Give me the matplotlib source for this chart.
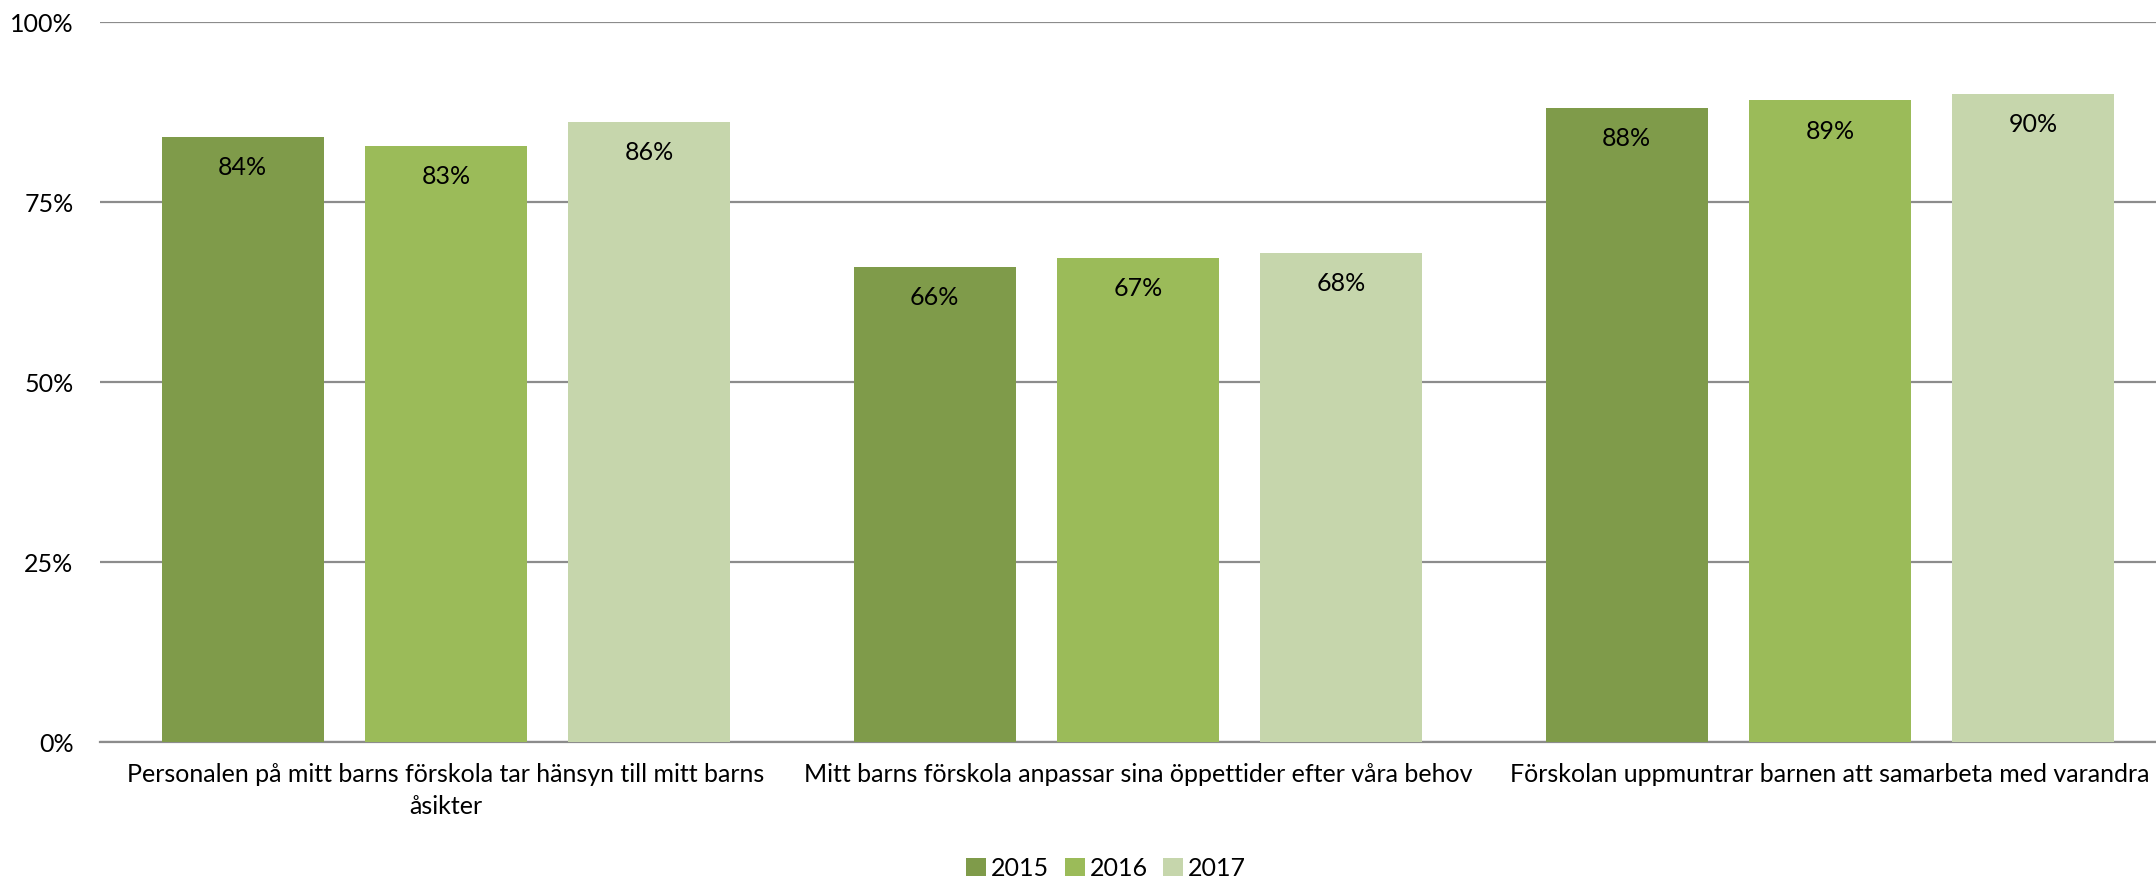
import matplotlib

matplotlib.use("Agg")
import matplotlib.pyplot as plt
from matplotlib.patches import Patch

plt.rcParams["font.family"] = ["Lato", "DejaVu Sans"]

# data
categories = [
    "Personalen på mitt barns förskola tar hänsyn till mitt barns\nåsikter",
    "Mitt barns förskola anpassar sina öppettider efter våra behov",
    "Förskolan uppmuntrar barnen att samarbeta med varandra",
]
years = ["2015", "2016", "2017"]
values_2015 = [84.0, 66.0, 88.0]
values_2016 = [82.8, 67.2, 89.1]
values_2017 = [86.1, 67.9, 90.0]
yticks = [0, 25, 50, 75, 100]
ytick_labels = ["0%", "25%", "50%", "75%", "100%"]

colors = ["#7f9b4a", "#9bbb59", "#c6d6ac"]
grid_color = "#8c8c8c"

fig = plt.figure(figsize=(21.56, 8.76), dpi=100)
ax = fig.add_axes([100 / 2156, 134 / 876, 2076 / 2156, 720 / 876])

series = [values_2015, values_2016, values_2017]
pitch = 0.294
width = 0.234
for i, (vals, col) in enumerate(zip(series, colors)):
    xs = [g + (i - 1) * pitch for g in range(len(categories))]
    bars = ax.bar(xs, vals, width=width, color=col, zorder=3)
    for b, v in zip(bars, vals):
        ax.annotate(
            f"{round(v):d}%",
            (b.get_x() + b.get_width() / 2, v),
            xytext=(0, -22),
            textcoords="offset points",
            ha="center",
            va="center",
            fontsize=18,
            color="black",
            zorder=4,
        )

ax.set_xlim(-0.5, 2.5)
ax.set_ylim(0, 100)
ax.set_yticks(yticks)
ax.set_yticklabels(ytick_labels, fontsize=18)
ax.set_xticks(range(len(categories)))
ax.set_xticklabels(categories, fontsize=18, linespacing=1.5)
ax.tick_params(axis="both", length=0)
ax.tick_params(axis="y", pad=19)
ax.tick_params(axis="x", pad=15)
ax.grid(axis="y", color=grid_color, linewidth=1.6, zorder=0)
for s in ["left", "right", "top"]:
    ax.spines[s].set_visible(False)
ax.spines["bottom"].set_color(grid_color)
ax.spines["bottom"].set_linewidth(1.6)

handles = [Patch(facecolor=c, edgecolor="none") for c in colors]
fig.legend(
    handles,
    years,
    loc="lower center",
    bbox_to_anchor=(1106 / 2156, -4 / 876),
    ncol=3,
    frameon=False,
    fontsize=18,
    borderpad=0,
    borderaxespad=0,
    handlelength=0.8,
    handleheight=0.8,
    handletextpad=0.2,
    columnspacing=0.6,
)

fig.savefig("out.png", dpi=100)
